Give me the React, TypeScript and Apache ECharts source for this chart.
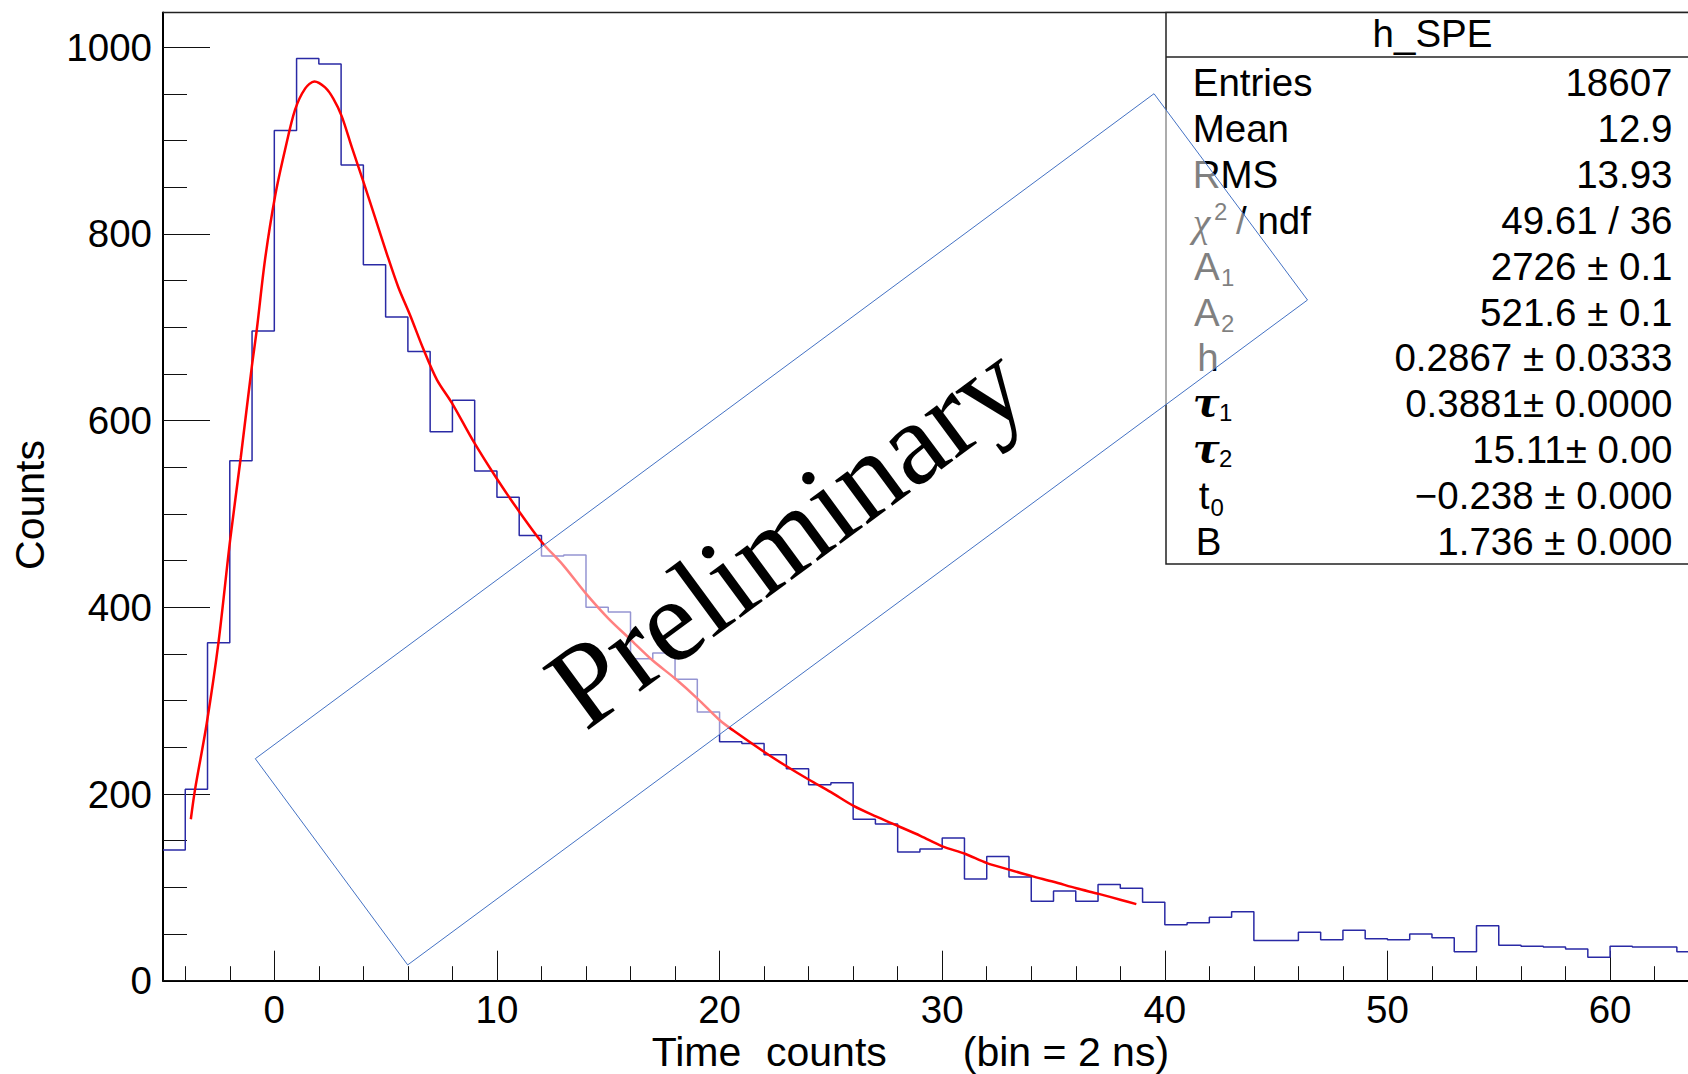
import React, { useEffect, useRef } from 'react';
import * as echarts from 'echarts';

// ---------- data ----------
const binEdges = [
  -5, -4, -3, -2, -1, 0, 1, 2, 3, 4, 5, 6, 7, 8, 9, 10, 11, 12, 13, 14, 15, 16, 17, 18, 19,
  20, 21, 22, 23, 24, 25, 26, 27, 28, 29, 30, 31, 32, 33, 34, 35, 36, 37, 38, 39, 40, 41, 42,
  43, 44, 45, 46, 47, 48, 49, 50, 51, 52, 53, 54, 55, 56, 57, 58, 59, 60, 61, 62, 63, 64,
];
const binCounts = [
  140, 205, 362, 557, 696, 911, 988, 982, 874, 767, 711, 674, 588, 622, 546, 518, 477, 455, 456,
  400, 395, 345, 351, 323, 288, 256, 254, 242, 227, 210, 212, 173, 168, 138, 141, 153, 109, 133,
  111, 85, 96, 85, 103, 99, 84, 60, 62, 68, 74, 43, 43, 52, 44, 54, 45, 44, 50, 46, 31, 59, 38,
  37, 36, 34, 25, 37, 36, 36, 31,
];

const fitX = [
  -3.75, -3.56, -3.04, -2.51, -1.99, -1.51, -1.01, -0.79, -0.42, 0.03, 0.48, 0.93, 1.39, 1.8,
  2.28, 2.65, 3.03, 3.48, 4.0, 4.52, 5.05, 5.57, 6.1, 6.69, 7.3, 8.0, 8.94, 9.99, 10.99, 12.01,
  12.98, 13.99, 15.01, 15.98, 17.0, 17.99, 19.02, 20.01, 20.62, 22.01, 22.99, 24.04, 25.0, 26.04,
  27.02, 27.99, 29.04, 30.01, 31.02, 32.01, 33.0, 34.03, 35.0, 36.03, 37.03, 38.04, 38.72,
];
const fitY = [
  173, 205, 275, 362, 471, 560, 658, 697, 772, 840, 890, 933, 956, 963.5, 957, 945, 926, 893, 856,
  818, 779, 743, 713, 677, 644, 618, 578, 538, 503, 470, 445, 415, 388, 366, 343, 324, 302, 279,
  268, 245, 230, 215, 202, 187, 176, 166, 155, 144, 136, 126, 119, 112, 106, 99, 93, 86.5, 82,
];

const xMajorTicks = [0, 10, 20, 30, 40, 50, 60];
const xMinorTicks = [
  -4, -2, 2, 4, 6, 8, 12, 14, 16, 18, 22, 24, 26, 28, 32, 34, 36, 38, 42, 44, 46, 48, 52, 54, 56,
  58, 62,
];
const yMajorTicks = [0, 200, 400, 600, 800, 1000];
const yMinorTicks = [
  50, 100, 150, 250, 300, 350, 450, 500, 550, 650, 700, 750, 850, 900, 950,
];

const statTitle = 'h_SPE';
const statValues = [
  '18607',
  '12.9',
  '13.93',
  '49.61 / 36',
  '2726 ± 0.1',
  '521.6 ± 0.1',
  '0.2867 ± 0.0333',
  '0.3881± 0.0000',
  '15.11± 0.00',
  '\u22120.238 ± 0.000',
  '1.736 ± 0.000',
];

const xTitleLeft = 'Time';
const xTitleMid = 'counts';
const xTitleRight = '(bin = 2 ns)';
const yTitle = 'Counts';
const watermark = 'Preliminary';

// ---------- layout ----------
const W = 1688;
const H = 1074;
const SANS = '"Liberation Sans", Arial, Helvetica, sans-serif';
const SERIF = '"Liberation Serif", "Times New Roman", serif';

function rowY(i: number) {
  return 82.2 + 45.96 * i;
}

function txt(
  text: string,
  x: number,
  y: number,
  font: string,
  align: string,
  z: number,
  fill = '#000',
  rotation = 0,
) {
  return {
    type: 'text',
    x,
    y,
    rotation,
    z,
    silent: true,
    style: {
      text,
      x: 0,
      y: 0,
      font,
      fill,
      align,
      verticalAlign: 'middle',
      textAlign: align,
      textVerticalAlign: 'middle',
    },
  };
}

function buildOption() {
  const histData: number[][] = binCounts.map((c, i) => [binEdges[i], c]);
  histData.push([binEdges[binEdges.length - 1], binCounts[binCounts.length - 1]]);
  const fitData = fitX.map((x, i) => [x, fitY[i]]);

  const statFont = `38.5px ${SANS}`;
  const subFont = `24px ${SANS}`;
  const tauFont = `italic bold 40px "DejaVu Serif", ${SERIF}`;
  const zs = 62;
  const graphics: any[] = [];

  // frame top
  graphics.push({
    type: 'line',
    z: 50,
    silent: true,
    shape: { x1: 163, y1: 12.5, x2: W, y2: 12.5 },
    style: { stroke: '#222', lineWidth: 1.5 },
  });
  // stats box
  graphics.push({
    type: 'rect',
    z: 60,
    silent: true,
    shape: { x: 1166, y: 12.5, width: 600, height: 551.5 },
    style: { fill: '#fff', stroke: '#222', lineWidth: 1.5 },
  });
  graphics.push({
    type: 'line',
    z: 61,
    silent: true,
    shape: { x1: 1166, y1: 57, x2: W, y2: 57 },
    style: { stroke: '#222', lineWidth: 1.5 },
  });
  graphics.push(txt(statTitle, 1432.5, 33, `38.5px ${SANS}`, 'center', zs));
  statValues.forEach((v, i) => graphics.push(txt(v, 1672.5, rowY(i), statFont, 'right', zs)));

  // names
  graphics.push(txt('Entries', 1192.7, rowY(0), statFont, 'left', zs));
  graphics.push(txt('Mean', 1192.7, rowY(1), statFont, 'left', zs));
  graphics.push(txt('RMS', 1192.7, rowY(2), statFont, 'left', zs));
  graphics.push(txt('\u03c7', 1192.7, rowY(3) + 2, `italic 40px ${SERIF}`, 'left', zs));
  graphics.push(txt('2', 1214, rowY(3) - 9, subFont, 'left', zs));
  graphics.push(txt('/ ndf', 1236, rowY(3), statFont, 'left', zs));
  graphics.push(txt('A', 1194, rowY(4), statFont, 'left', zs));
  graphics.push(txt('1', 1221, rowY(4) + 11, subFont, 'left', zs));
  graphics.push(txt('A', 1194, rowY(5), statFont, 'left', zs));
  graphics.push(txt('2', 1221, rowY(5) + 11, subFont, 'left', zs));
  graphics.push(txt('h', 1208, rowY(6), statFont, 'center', zs));
  graphics.push(txt('\u03c4', 1192.7, rowY(7) - 2, tauFont, 'left', zs));
  graphics.push(txt('1', 1219, rowY(7) + 9, subFont, 'left', zs));
  graphics.push(txt('\u03c4', 1192.7, rowY(8) - 2, tauFont, 'left', zs));
  graphics.push(txt('2', 1219, rowY(8) + 9, subFont, 'left', zs));
  graphics.push(txt('t', 1198.7, rowY(9), statFont, 'left', zs));
  graphics.push(txt('0', 1210.5, rowY(9) + 12, subFont, 'left', zs));
  graphics.push(txt('B', 1208.5, rowY(10), statFont, 'center', zs));

  // axis titles
  graphics.push(txt(xTitleLeft, 651.7, 1052, `41px ${SANS}`, 'left', 61));
  graphics.push(txt(xTitleMid, 766, 1052, `41px ${SANS}`, 'left', 61));
  graphics.push(txt(xTitleRight, 962.8, 1052, `41px ${SANS}`, 'left', 61));
  graphics.push(txt(yTitle, 30, 505, `41px ${SANS}`, 'center', 61, '#000', Math.PI / 2));

  // translucent "Preliminary" box on top
  graphics.push({
    type: 'polygon',
    z: 100,
    silent: true,
    shape: {
      points: [
        [255.3, 758.7],
        [407.7, 964.9],
        [1307.5, 300],
        [1154, 93.7],
      ],
    },
    style: { fill: 'rgba(255,255,255,0.5)', stroke: '#4472C4', lineWidth: 1 },
  });
  graphics.push(
    txt(watermark, 786, 535, `118px ${SERIF}`, 'center', 110, '#000', (36.41 * Math.PI) / 180),
  );

  const axisCommon = {
    type: 'value',
    splitLine: { show: false },
    axisPointer: { show: false },
  };
  const plain = (v: number) => String(v);

  return {
    animation: false,
    backgroundColor: '#ffffff',
    grid: { left: 163, right: 0, top: 12.5, bottom: 93.3, containLabel: false },
    xAxis: [
      {
        ...axisCommon,
        min: -5,
        max: 63.5,
        position: 'bottom',
        axisLine: { show: true, onZero: false, lineStyle: { color: '#000', width: 2 } },
        axisTick: {
          show: true,
          inside: true,
          length: 30,
          customValues: xMajorTicks,
          lineStyle: { color: '#111', width: 1 },
        },
        axisLabel: {
          show: true,
          customValues: xMajorTicks,
          formatter: plain,
          margin: 9,
          fontSize: 38.5,
          fontFamily: SANS,
          color: '#000',
        },
      },
      {
        ...axisCommon,
        min: -5,
        max: 63.5,
        position: 'bottom',
        axisLine: { show: false, onZero: false },
        axisTick: {
          show: true,
          inside: true,
          length: 14.5,
          customValues: xMinorTicks,
          lineStyle: { color: '#111', width: 1 },
        },
        axisLabel: { show: false },
      },
    ],
    yAxis: [
      {
        ...axisCommon,
        min: 0,
        max: 1037.3,
        position: 'left',
        axisLine: { show: true, onZero: false, lineStyle: { color: '#000', width: 2 } },
        axisTick: {
          show: true,
          inside: true,
          length: 47,
          customValues: yMajorTicks,
          lineStyle: { color: '#111', width: 1 },
        },
        axisLabel: {
          show: true,
          customValues: yMajorTicks,
          formatter: plain,
          margin: 11,
          fontSize: 38.5,
          fontFamily: SANS,
          color: '#000',
        },
      },
      {
        ...axisCommon,
        min: 0,
        max: 1037.3,
        position: 'left',
        axisLine: { show: false, onZero: false },
        axisTick: {
          show: true,
          inside: true,
          length: 24,
          customValues: yMinorTicks,
          lineStyle: { color: '#111', width: 1 },
        },
        axisLabel: { show: false },
      },
    ],
    series: [
      {
        type: 'line',
        name: 'h_SPE',
        xAxisIndex: 0,
        yAxisIndex: 0,
        step: 'end',
        data: histData,
        symbol: 'none',
        lineStyle: { color: '#2a2aa5', width: 1.5 },
        z: 3,
        silent: true,
      },
      {
        type: 'line',
        name: 'fit',
        xAxisIndex: 0,
        yAxisIndex: 0,
        data: fitData,
        smooth: 0.3,
        symbol: 'none',
        lineStyle: { color: '#ff0000', width: 2.5 },
        z: 4,
        silent: true,
      },
    ],
    graphic: { elements: graphics },
  };
}

export default function App() {
  const ref = useRef<HTMLDivElement>(null);
  useEffect(() => {
    if (!ref.current) return;
    const chart = echarts.init(ref.current, null, { renderer: 'svg' });
    chart.setOption(buildOption() as any);
    return () => {
      chart.dispose();
    };
  }, []);
  return (
    <div
      ref={ref}
      style={{ position: 'fixed', left: 0, top: 0, width: W, height: H, background: '#fff' }}
    />
  );
}
